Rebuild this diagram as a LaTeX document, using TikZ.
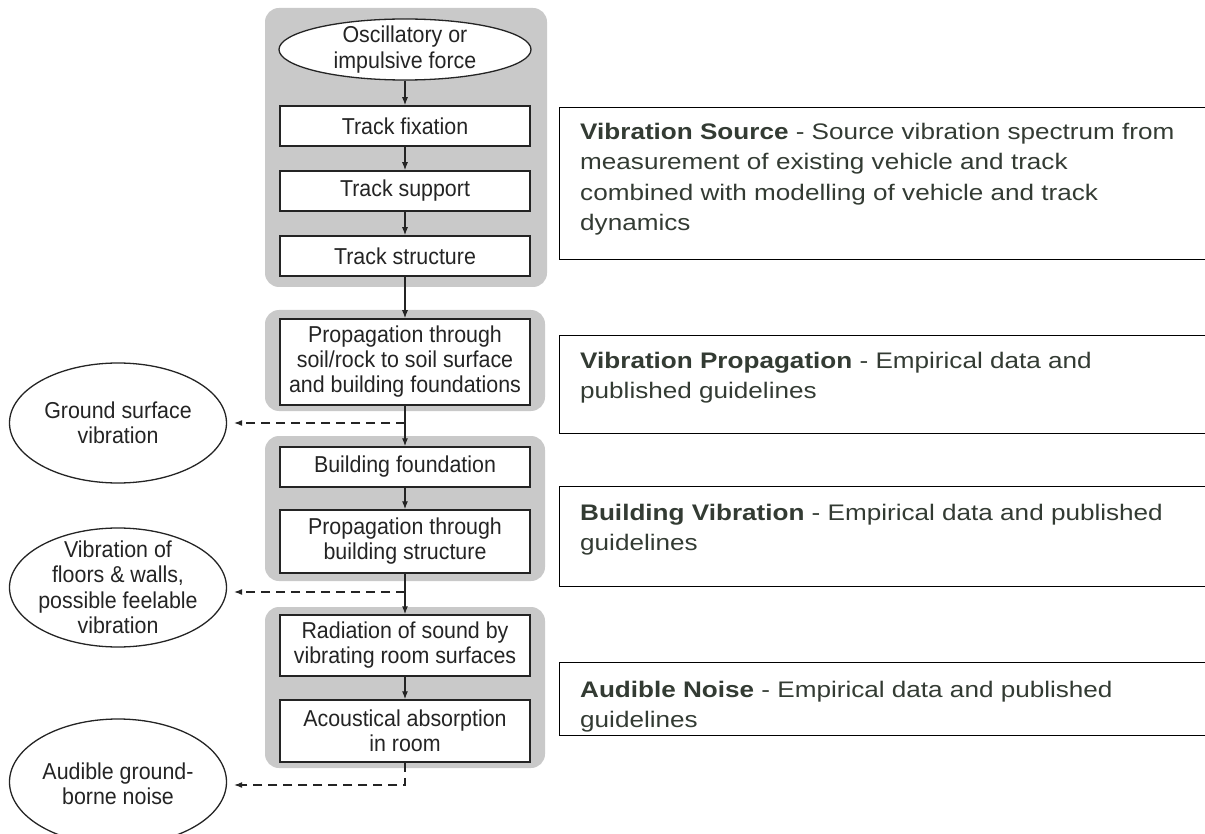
\documentclass[tikz,border=0pt]{standalone}
\usepackage{fontspec}
\setmainfont{Liberation Sans}
\newfontfamily\widefont[FakeStretch=1.16]{Liberation Sans}
\newfontfamily\flowfont[FakeStretch=0.93]{Liberation Sans}
\usetikzlibrary{shapes.geometric,arrows.meta}
\definecolor{grp}{rgb}{0.79,0.79,0.79}
\definecolor{ink}{rgb}{0.14,0.14,0.14}
\definecolor{txt}{rgb}{0.2,0.23,0.2}
\begin{document}
\begin{tikzpicture}[x=1pt,y=-1pt,
  grpbox/.style={fill=grp, draw=none, rounded corners=14pt},
  flowbox/.style={draw=ink, line width=1.5pt, fill=white, minimum width=250pt, align=center, inner sep=2pt, font={\flowfont\fontsize{23}{25}\selectfont}, text=ink},
  oval/.style={ellipse, draw=ink, line width=1.3pt, fill=white, inner sep=0pt},
  ovaltext/.style={align=center, inner sep=0pt, font={\flowfont\fontsize{23}{25.5}\selectfont}, text=ink},
  arr/.style={draw=ink, line width=1.2pt, -{Latex[length=8pt,width=6pt]}},
  darr/.style={arr, dash pattern=on 9pt off 6pt},
  notebox/.style={draw=black, line width=1.1pt, anchor=north west, minimum width=680pt, inner sep=0pt},
  note/.style={anchor=north west, inner sep=0pt, align=left, font={\widefont\fontsize{22.5}{30.5}\selectfont}, text=txt}
]
\useasboundingbox (0,0) rectangle (1205,834);

% grey groups
\fill[grpbox] (265,8) rectangle (547,287);
\fill[grpbox] (265,310) rectangle (545,411);
\fill[grpbox] (265,436) rectangle (545,581);
\fill[grpbox] (265,607) rectangle (545,768);

% flow nodes
\node[oval, minimum width=252pt, minimum height=61pt] (osc) at (405,49.5) {};
\node[ovaltext] (osct) at (osc.center) {Oscillatory or\\impulsive force};
\node[flowbox, minimum height=40pt] (fix) at (405,126) {Track fixation};
\node[flowbox, minimum height=40pt] (sup) at (405,191) {Track support};
\node[flowbox, minimum height=40pt] (str) at (405,256) {Track structure};
\node[flowbox, minimum height=86pt] (prop) at (405,362) {Propagation through\\soil/rock to soil surface\\and building foundations};
\node[flowbox, minimum height=40pt] (bf) at (405,467) {Building foundation};
\node[flowbox, minimum height=63pt] (pbs) at (405,541.5) {Propagation through\\building structure};
\node[flowbox, minimum height=61pt] (rad) at (405,645.5) {Radiation of sound by\\vibrating room surfaces};
\node[flowbox, minimum height=62pt] (ac) at (405,731) {Acoustical absorption\\in room};

% outcome ellipses
\node[oval, minimum width=217pt, minimum height=120pt] (gsv) at (118,423) {};
\node[ovaltext] (gsvt) at (gsv.center) {Ground surface\\vibration};
\node[oval, minimum width=217pt, minimum height=119pt] (vfw) at (118,587.5) {};
\node[ovaltext] (vfwt) at (vfw.center) {Vibration of\\floors \& walls,\\possible feelable\\vibration};
\node[oval, minimum width=217pt, minimum height=126pt] (agn) at (118,782) {};
\node[ovaltext] (agnt) at ([yshift=-2pt]agn.center) {Audible ground-\\borne noise};

% connectors
\draw[arr] (osc) -- (fix);
\draw[arr] (fix) -- (sup);
\draw[arr] (sup) -- (str);
\draw[arr] (str) -- (prop);
\draw[arr] (prop) -- (bf);
\draw[arr] (bf) -- (pbs);
\draw[arr] (pbs) -- (rad);
\draw[arr] (rad) -- (ac);

\coordinate (j1) at (405,423);
\coordinate (j2) at (405,592);
\coordinate (j3) at (405,785);
\draw[darr] (j1) -- ([xshift=7pt]j1 -| gsv.east);
\draw[darr] (j2) -- ([xshift=7pt]j2 -| vfw.east);
\draw[darr] (ac) -- (j3) -- ([xshift=7pt]j3 -| agn.east);

% right-hand notes
\node[notebox, minimum height=152pt] (srcbox) at (559,107) {};
\node[note] (srctxt) at (580,122.5) {\textbf{Vibration Source} - Source vibration spectrum from\\measurement of existing vehicle and track\\combined with modelling of vehicle and track\\dynamics};
\node[notebox, minimum height=98pt] (propbox) at (559,335) {};
\node[note] (proptxt) at (580,351.5) {\textbf{Vibration Propagation} - Empirical data and\\published guidelines};
\node[notebox, minimum height=100pt] (bldbox) at (559,486) {};
\node[note] (bldtxt) at (580,503.5) {\textbf{Building Vibration} - Empirical data and published\\guidelines};
\node[notebox, minimum height=73pt] (audbox) at (559,662) {};
\node[note] (audtxt) at (580,680.5) {\textbf{Audible Noise} - Empirical data and published\\guidelines};
\end{tikzpicture}
\end{document}
